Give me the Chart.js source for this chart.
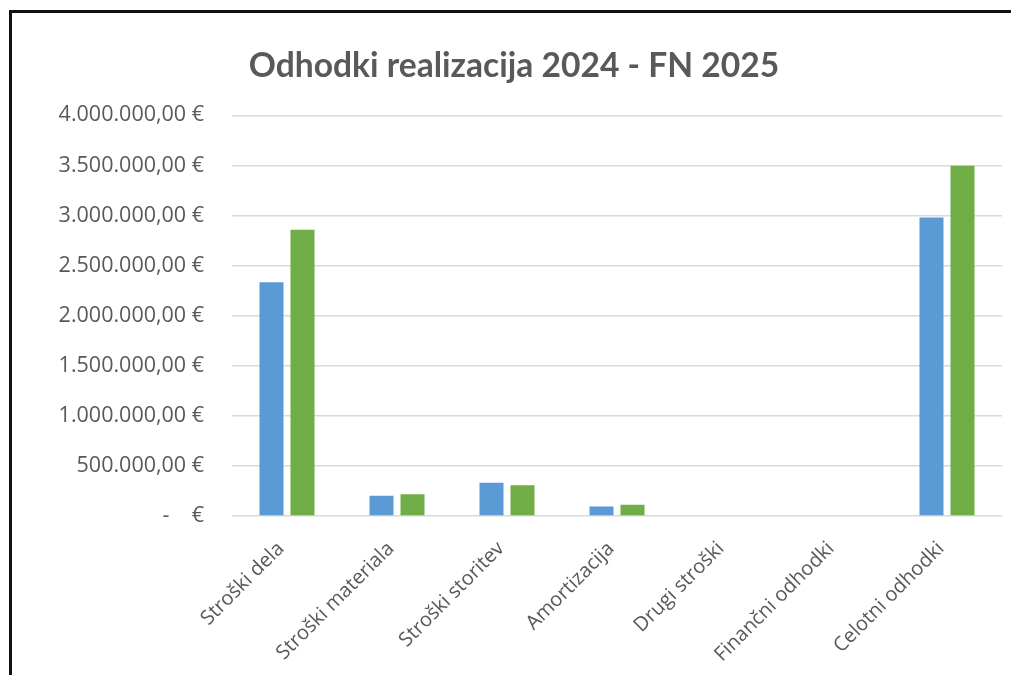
<!DOCTYPE html>
<html>
<head>
<meta charset="utf-8">
<script src="https://cdn.jsdelivr.net/npm/chart.js@4/dist/chart.umd.min.js"></script>
<style>
  html, body { margin: 0; padding: 0; background: #fff; overflow: hidden; }
</style>
</head>
<body>
<canvas id="odhodki"></canvas>
<script>
const categories = ['Stroški dela', 'Stroški materiala', 'Stroški storitev', 'Amortizacija',
    'Drugi stroški', 'Finančni odhodki', 'Celotni odhodki'];
const realizacija2024 = [2333000, 203000, 333000, 95000, 0, 0, 2980000];
const fn2025 = [2857000, 217000, 307000, 112000, 0, 0, 3497000];
const yMin = 0;
const yMax = 4000000;
const yStep = 500000;

// accounting style: 4.000.000,00 €  /  -   €
function euro(v) {
    if (v === 0) return '-    €';
    let parts = v.toFixed(2).split('.');
    let whole = parts[0].replace(/\B(?=(\d{3})+(?!\d))/g, '.');
    return whole + ',' + parts[1] + ' €';
}

// black frame on the left and top edge (the rest is cut off in the picture)
const frame = {
    id: 'frame',
    afterDraw(chart) {
        let ctx = chart.ctx;
        ctx.save();
        ctx.fillStyle = '#111';
        ctx.fillRect(9, 10, 3, chart.height - 10);
        ctx.fillRect(9, 10, chart.width - 9, 3);
        ctx.restore();
    }
};

let canvas = document.getElementById('odhodki');
canvas.width = 1011;
canvas.height = 675;

let myChart = new Chart(canvas, {
    type: 'bar',
    data: {
        labels: categories,
        datasets: [{
            label: 'Realizacija 2024',
            data: realizacija2024,
            backgroundColor: '#5B9BD5'
        }, {
            label: 'FN 2025',
            data: fn2025,
            backgroundColor: '#70AD47'
        }]
    },
    options: {
        responsive: false,
        animation: false,
        layout: { padding: { top: 28, right: 9, bottom: 0, left: 26 } },
        categoryPercentage: 0.564,
        barPercentage: 0.774,
        plugins: {
            legend: { display: false },
            tooltip: { enabled: false },
            title: {
                display: true,
                text: 'Odhodki realizacija 2024 - FN 2025',
                color: '#595959',
                font: { family: 'Lato', size: 33.6, weight: 'bold', lineHeight: 1.2 },
                padding: { top: 18, bottom: 29 }
            }
        },
        scales: {
            x: {
                grid: { display: false },
                border: { display: false },
                ticks: {
                    color: '#595959',
                    font: { family: 'Open Sans', size: 20 },
                    minRotation: 45,
                    maxRotation: 45,
                    padding: 13,
                    labelOffset: -6
                },
                afterFit: function (scale) { scale.height = 159; }
            },
            y: {
                min: yMin,
                max: yMax,
                grid: { color: '#D9D9D9', lineWidth: 1.5, drawTicks: false },
                border: { display: false },
                ticks: {
                    stepSize: yStep,
                    color: '#595959',
                    font: { family: 'Open Sans', size: 21.5 },
                    padding: 28,
                    callback: function (v) { return euro(v); }
                },
                afterFit: function (scale) { scale.width = 206; }
            }
        }
    },
    plugins: [frame]
});
</script>
</body>
</html>
